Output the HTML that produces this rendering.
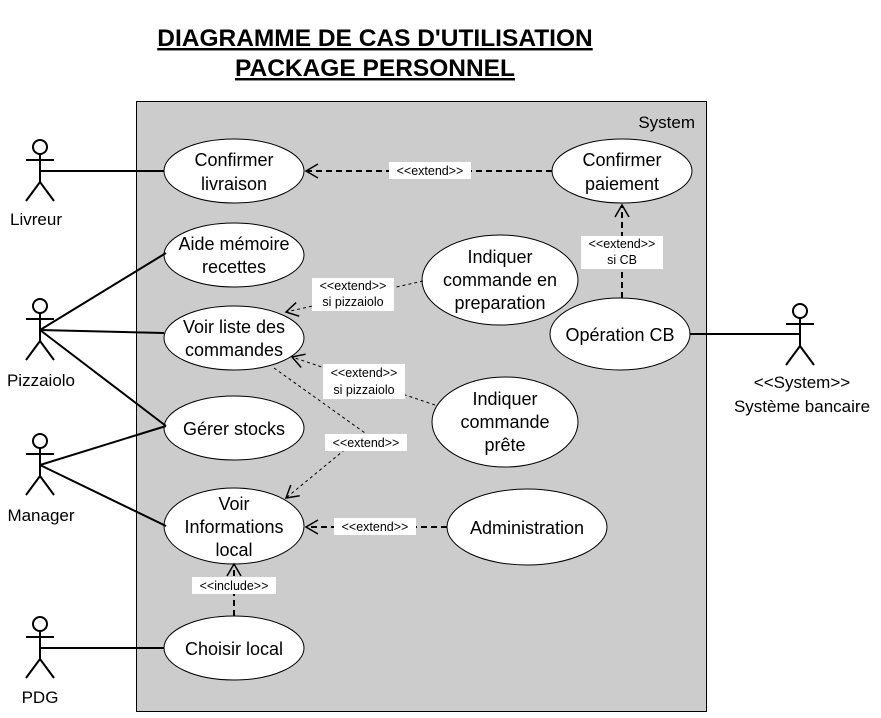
<!DOCTYPE html>
<html><head><meta charset="utf-8"><style>
body{margin:0;background:#fff;}
svg text{font-family:"Liberation Sans",Arial,sans-serif;}
</style></head><body>
<svg width="881" height="713" viewBox="0 0 881 713" xmlns="http://www.w3.org/2000/svg">
<defs>
<marker id="a" markerWidth="16" markerHeight="18" refX="13" refY="8" orient="auto" markerUnits="userSpaceOnUse">
<path d="M1,1 L13,8 L1,15" fill="none" stroke="#000" stroke-width="1.5" stroke-dasharray="none"/>
</marker>
</defs>
<text x="375" y="46" font-size="24.5" font-weight="bold" text-anchor="middle" text-decoration="underline">DIAGRAMME DE CAS D'UTILISATION</text>
<text x="375" y="76" font-size="24.5" font-weight="bold" text-anchor="middle" text-decoration="underline">PACKAGE PERSONNEL</text>
<rect x="136.5" y="101.5" width="570" height="610" fill="#cccccc" stroke="#000"/>
<text x="695" y="128" font-size="17" text-anchor="end">System</text>

<g fill="#fff" stroke="#000" stroke-width="1">
<ellipse cx="234" cy="171" rx="70" ry="32"/>
<ellipse cx="622" cy="171" rx="70" ry="32"/>
<ellipse cx="234" cy="255" rx="70" ry="32"/>
<ellipse cx="500" cy="280" rx="78" ry="45"/>
<ellipse cx="234" cy="338" rx="70" ry="32"/>
<ellipse cx="620" cy="334" rx="70" ry="36"/>
<ellipse cx="505" cy="422" rx="73" ry="45"/>
<ellipse cx="234" cy="428" rx="70" ry="32"/>
<ellipse cx="234" cy="526" rx="70" ry="38"/>
<ellipse cx="527" cy="527" rx="80" ry="38"/>
<ellipse cx="234" cy="648" rx="70" ry="32"/>
</g>

<g stroke="#000" stroke-width="2" fill="none">
<line x1="40" y1="171" x2="164" y2="171"/>
<line x1="40" y1="330" x2="166" y2="253"/>
<line x1="40" y1="330" x2="164" y2="333"/>
<line x1="40" y1="330" x2="166" y2="426"/>
<line x1="40" y1="465" x2="166" y2="426"/>
<line x1="40" y1="465" x2="166" y2="526"/>
<line x1="40" y1="648" x2="164" y2="648"/>
<line x1="690" y1="334" x2="800" y2="334"/>
</g>

<g stroke="#000" stroke-width="2" fill="none">
<line x1="552" y1="171" x2="306" y2="171" stroke-dasharray="6,4" marker-end="url(#a)"/>
<line x1="622" y1="298" x2="622" y2="205" stroke-dasharray="6,4" marker-end="url(#a)"/>
<line x1="447" y1="527" x2="306" y2="527" stroke-dasharray="6,4" marker-end="url(#a)"/>
<line x1="234" y1="616" x2="234" y2="564" stroke-dasharray="6,4" marker-end="url(#a)"/>
</g>
<g stroke="#000" stroke-width="1" fill="none" stroke-dasharray="3,3">
<line x1="423" y1="281" x2="286" y2="312" marker-end="url(#a)"/>
<line x1="435" y1="405" x2="292" y2="357" marker-end="url(#a)"/>
<polyline points="274,368 365,433 286,498" marker-end="url(#a)"/>
</g>

<g font-size="18" text-anchor="middle">
<text x="234" y="166">Confirmer</text><text x="234" y="190">livraison</text>
<text x="622" y="166">Confirmer</text><text x="622" y="190">paiement</text>
<text x="234" y="250">Aide mémoire</text><text x="234" y="273">recettes</text>
<text x="500" y="263">Indiquer</text><text x="500" y="286">commande en</text><text x="500" y="309">preparation</text>
<text x="234" y="333">Voir liste des</text><text x="234" y="356">commandes</text>
<text x="620" y="341">Opération CB</text>
<text x="505" y="405">Indiquer</text><text x="505" y="428">commande</text><text x="505" y="451">prête</text>
<text x="234" y="435">Gérer stocks</text>
<text x="234" y="510">Voir</text><text x="234" y="533">Informations</text><text x="234" y="556">local</text>
<text x="527" y="534">Administration</text>
<text x="234" y="655">Choisir local</text>
</g>

<g font-size="12.5" text-anchor="middle">
<rect x="389" y="162" width="82" height="17" fill="#fff"/><text x="430" y="175">&lt;&lt;extend&gt;&gt;</text>
<rect x="581" y="236" width="82" height="33" fill="#fff"/><text x="622" y="248">&lt;&lt;extend&gt;&gt;</text><text x="622" y="264">si CB</text>
<rect x="312" y="278" width="82" height="33" fill="#fff"/><text x="353" y="290">&lt;&lt;extend&gt;&gt;</text><text x="353" y="306">si pizzaiolo</text>
<rect x="323" y="364" width="82" height="35" fill="#fff"/><text x="364" y="377">&lt;&lt;extend&gt;&gt;</text><text x="364" y="394">si pizzaiolo</text>
<rect x="325" y="434" width="82" height="17" fill="#fff"/><text x="366" y="447">&lt;&lt;extend&gt;&gt;</text>
<rect x="334" y="518" width="82" height="17" fill="#fff"/><text x="375" y="531">&lt;&lt;extend&gt;&gt;</text>
<rect x="192" y="577" width="84" height="17" fill="#fff"/><text x="234" y="590">&lt;&lt;include&gt;&gt;</text>
</g>

<g stroke="#000" stroke-width="2" fill="#fff">
<g transform="translate(40,147)"><circle r="7" cy="0"/><path d="M0,7V35M-14,13H14M0,35L-14,54M0,35L14,54" fill="none"/></g>
<g transform="translate(40,306)"><circle r="7" cy="0"/><path d="M0,7V35M-14,13H14M0,35L-14,54M0,35L14,54" fill="none"/></g>
<g transform="translate(40,441)"><circle r="7" cy="0"/><path d="M0,7V35M-14,13H14M0,35L-14,54M0,35L14,54" fill="none"/></g>
<g transform="translate(40,624)"><circle r="7" cy="0"/><path d="M0,7V35M-14,13H14M0,35L-14,54M0,35L14,54" fill="none"/></g>
<g transform="translate(800,311)"><circle r="7" cy="0"/><path d="M0,7V35M-14,13H14M0,35L-14,54M0,35L14,54" fill="none"/></g>
</g>
<g font-size="17" text-anchor="middle">
<text x="36" y="225">Livreur</text>
<text x="41" y="386">Pizzaiolo</text>
<text x="41" y="521">Manager</text>
<text x="40" y="703">PDG</text>
<text x="802" y="388">&lt;&lt;System&gt;&gt;</text>
<text x="802" y="412">Système bancaire</text>
</g>
</svg>
</body></html>
